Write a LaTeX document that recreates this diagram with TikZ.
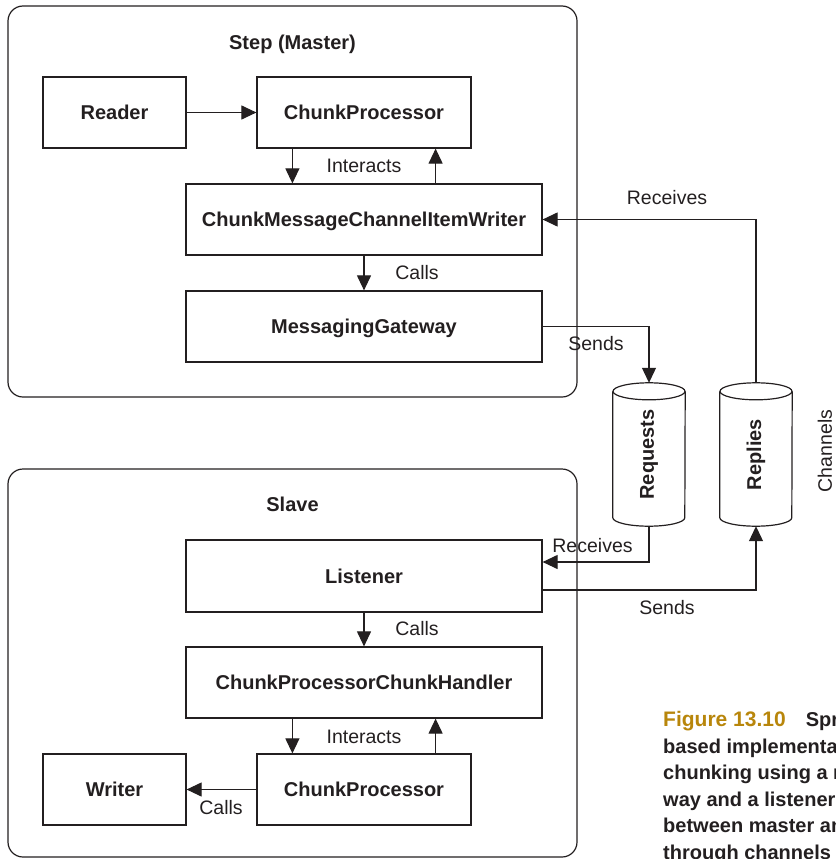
\documentclass[tikz,border=0pt]{standalone}
\usepackage{fontspec}
\setmainfont{Liberation Sans}
\usepackage{xcolor}
\usetikzlibrary{arrows.meta,positioning,calc}
\definecolor{inkgray}{HTML}{231F20}
\definecolor{figgold}{HTML}{B8860B}
\newcommand{\channelshape}[1]{%
  \draw[chanline] ([yshift=-8.5pt]#1.north) ellipse [x radius=36pt,y radius=8.5pt];
  \draw[chanline] ([yshift=-8.5pt]#1.north west) -- ([yshift=8.5pt]#1.south west)
    arc[start angle=180,end angle=360,x radius=36pt,y radius=8.5pt] -- ([yshift=-8.5pt]#1.north east);}

\begin{document}
\begin{tikzpicture}[
  x=1pt,y=-1pt,
  every node/.style={font=\fontsize{19.5}{23}\selectfont,text=inkgray,text height=14pt,text depth=0pt},
  group/.style={rectangle,rounded corners=15pt,draw=inkgray,line width=1.2pt,inner sep=0pt},
  comp/.style={rectangle,draw=inkgray,line width=1.2pt,inner sep=0pt,minimum height=71pt,font=\fontsize{20}{24}\selectfont\bfseries},
  chanbox/.style={rectangle,inner sep=0pt,minimum width=72pt,minimum height=143pt,text height=,text depth=,font=\fontsize{20}{24}\selectfont\bfseries},
  chanline/.style={draw=inkgray,line width=1.2pt},
  arrow/.style={-{Triangle[length=15pt,width=14pt]},line width=1.1pt,color=inkgray}
]
\useasboundingbox (0,0) rectangle (835,859);
\clip (0,0) rectangle (835,859);

\node[group,minimum width=569pt,minimum height=391pt] (master) at (292.5,201.5) {};
\node[group,minimum width=569pt,minimum height=388pt] (slave) at (292.5,663) {};
\node[font=\fontsize{20}{24}\selectfont\bfseries] (mastertitle) at (292.5,42) {Step (Master)};
\node[font=\fontsize{20}{24}\selectfont\bfseries] (slavetitle) at (292.5,504) {Slave};

\node[comp,minimum width=143pt] (reader) at (114.5,112.5) {Reader};
\node[comp,minimum width=214pt] (cpA) at (364,112.5) {ChunkProcessor};
\node[comp,minimum width=356pt] (cmw) at (364,219.5) {ChunkMessageChannelItemWriter};
\node[comp,minimum width=356pt] (gw) at (364,326.5) {MessagingGateway};

\node[comp,minimum width=356pt,minimum height=72pt] (lis) at (364,576) {Listener};
\node[comp,minimum width=356pt] (cpch) at (364,682.5) {ChunkProcessorChunkHandler};
\node[comp,minimum width=214pt] (cpB) at (364,789.5) {ChunkProcessor};
\node[comp,minimum width=143pt] (writer) at (114.5,789.5) {Writer};

\node[chanbox] (req) at (649,454.5) {\rotatebox{90}{Requests}};
\node[chanbox] (rep) at (756,454.5) {\rotatebox{90}{Replies}};
\channelshape{req}
\channelshape{rep}
\node[text height=,text depth=,inner sep=0pt] (chanlbl) at (825,451) {\rotatebox{90}{Channels}};

\draw[arrow] (reader) -- (cpA);
\draw[arrow] ([xshift=36pt]cpA.south west) -- ([xshift=36pt]cpA.south west |- cmw.north);
\draw[arrow] ([xshift=-36pt]cpA.south east |- cmw.north) -- ([xshift=-36pt]cpA.south east);
\node (interA) at (364,165) {Interacts};
\draw[arrow] (cmw) -- (gw);
\node (callsA) at (417,272) {Calls};

\draw[arrow] (gw.east) -| (req.north);
\node (sendsA) at (596,343) {Sends};
\draw[arrow] (rep.north) |- (cmw.east);
\node (recvA) at (667,197) {Receives};

\draw[arrow] (req.south) |- ([yshift=14pt]lis.east);
\node (recvB) at (592.5,545) {Receives};
\draw[arrow] ([yshift=-14pt]lis.east) -| (rep.south);
\node (sendsB) at (667,607) {Sends};

\draw[arrow] (lis) -- (cpch);
\node (callsB) at (417,628) {Calls};
\draw[arrow] ([xshift=36pt]cpB.north west |- cpch.south) -- ([xshift=36pt]cpB.north west);
\draw[arrow] ([xshift=-36pt]cpB.north east) -- ([xshift=-36pt]cpB.north east |- cpch.south);
\node (interB) at (364,736) {Interacts};
\draw[arrow] (cpB) -- (writer);
\node (callsC) at (221,807) {Calls};

\node[anchor=north west,align=left,inner sep=0pt,text height=,text depth=,font=\fontsize{20}{26.6}\selectfont\bfseries] (caption) at (663,711)
  {{\fontsize{21}{26.6}\selectfont\textcolor{figgold}{Figure 13.10}}\quad Spring Batch--\\
   based implementation of remote\\
   chunking using a messaging gate-\\
   way and a listener to communicate\\
   between master and slaves\\
   through channels};
\end{tikzpicture}
\end{document}
